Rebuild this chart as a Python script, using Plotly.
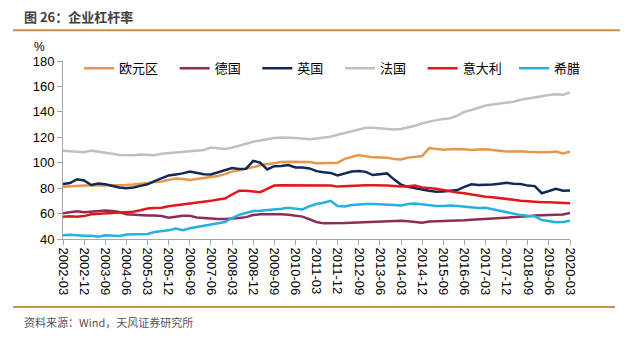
import plotly.graph_objects as go

dates = []
for y in range(2002, 2021):
    for m in ("03", "06", "09", "12"):
        dates.append(f"{y}-{m}")
dates = dates[:73]  # 2002-03 .. 2020-03

euro = [81, 81.5, 81.8, 82, 82, 82, 82, 82, 82.2, 82.4, 82.8, 83.2, 84, 84.8, 85.2, 86.5, 87.5, 87.2, 86.5, 87.2,
        88, 89, 89.5, 91, 93, 94, 95, 96.5, 98, 99, 100, 100.5, 100.8, 100.6, 100.2, 100.5, 99.5, 99.8, 99.6, 100,
        103, 104.5, 106, 105, 104.2, 104.1, 104, 103, 102.5, 104, 104.5, 105.2, 111.5, 110.8, 110.2, 110.5, 110.8, 110.5, 110, 110.3,
        110.6, 110, 109.3, 108.8, 108.8, 109, 108.6, 108.3, 108.2, 108.3, 108.8, 107.3, 108.6]
germany = [60.2, 61, 61.8, 61, 61.5, 62.4, 62.4, 62, 61.2, 59.5, 59, 58.6, 58.4, 58.4, 58, 56.8, 57.5, 58.2, 58.2, 57,
           56.6, 56, 55.8, 55.8, 56, 56.5, 57.2, 58.8, 59.5, 59.6, 59.5, 59.4, 59, 58.5, 57.6, 55.5, 53.3, 52.3, 52.2, 52.3,
           52.5, 52.8, 53, 53.3, 53.6, 54, 54.3, 54.5, 54.3, 54, 53.5, 52.8, 53.8, 54, 54, 54, 54.3, 54.8, 55.2, 55.5,
           55.8, 56, 56.5, 56.8, 57, 57.4, 57.8, 58.4, 58.8, 59, 59.1, 59.3, 60.5]
uk = [83.2, 84, 87, 86, 82.5, 83.7, 83, 81.8, 80.5, 80, 80.5, 81.8, 83, 85.5, 88, 90, 90.8, 91.6, 93, 92,
      91, 90.8, 92.5, 94, 95.8, 95, 95.3, 101.5, 100, 94.7, 97.3, 97.5, 98.1, 96.3, 96.2, 95.5, 93.4, 92.5, 92, 90,
      91.5, 93, 93.4, 92.8, 90.3, 91, 91.6, 86.9, 82.8, 81, 80.2, 79, 78, 77.2, 77.3, 77.6, 78.5, 81, 83, 82.4,
      82.4, 82.8, 83.5, 84.2, 83.5, 83.2, 82, 81.6, 76, 77.5, 79.5, 78, 78.2]
france = [109.5, 109, 108.5, 108.2, 109.5, 108.8, 108.2, 107, 106, 105.6, 105.8, 106.5, 106.2, 105.8, 107, 107.5, 107.8, 108.2, 109, 109.4,
          110, 112, 111.5, 110.8, 111.8, 113.5, 115, 116.5, 117.4, 118.5, 119.5, 119.8, 119.8, 119.5, 119, 118.5, 119, 119.5, 120.5, 122,
          123.5, 125, 126.5, 127.5, 127.5, 127, 126.5, 126.2, 126.5, 127.5, 129, 131, 132.5, 133.5, 134.3, 135, 137, 140, 141.5, 143,
          145, 145.8, 146.5, 147, 148, 149.5, 150.5, 151.5, 152.5, 153.2, 153.8, 153.4, 155.3]
italy = [57.5, 57.8, 57.5, 58, 59.5, 59.8, 60, 60.4, 60.8, 61.2, 61.5, 62.6, 64, 64.3, 64.6, 65.8, 66.5, 67, 67.4, 68.5,
         69.2, 70, 71, 71.8, 75, 77.9, 77.9, 77.5, 76.8, 79.5, 82, 82.2, 82.2, 82.2, 82.2, 82.2, 82.2, 82.2, 82, 81.2,
         81.5, 82, 82.2, 82.2, 82.2, 82.2, 82, 81.6, 81.2, 81.5, 82, 80.6, 80.2, 79.5, 78.6, 77.5, 76.5, 76, 75, 73.6,
         73.2, 72.9, 72, 71.3, 70.8, 70, 69.5, 69.2, 69, 69, 68.6, 68.3, 68.2]
greece = [42.9, 43.4, 43, 42.5, 42.6, 41.8, 42.9, 42.8, 42.4, 43.5, 43.7, 43.7, 44, 45.5, 46.2, 46.8, 48.2, 47, 48.5, 49.5,
          50, 51, 52.2, 53.4, 56.5, 59, 60.5, 62, 62.3, 62.7, 63, 63.8, 64.5, 64, 63.2, 65.8, 67.5, 68.5, 70, 66,
          65.5, 66.7, 67.2, 67.6, 67.5, 67.4, 67.4, 66.8, 66.3, 67.5, 68, 67.5, 66.5, 65.9, 66, 66.4, 66, 65.3, 64.6, 64.4,
          64.6, 63.5, 62, 60.7, 59.8, 58.8, 58.2, 57.8, 55, 54.2, 53.2, 53.3, 54.3]

names = ["欧元区", "德国", "英国", "法国", "意大利", "希腊"]
series = [euro, germany, uk, france, italy, greece]
colors = ["#E8964A", "#8E2B57", "#0F2A55", "#C0C0C0", "#E3161C", "#25B0E0"]
legend_groups = ["legend", "legend", "legend", "legend", "legend", "legend2"]

tick_labels = dates[::3]
y_ticks = [40, 60, 80, 100, 120, 140, 160, 180]

PAD = "\u00a0" * 4  # spacing between legend entries

fig = go.Figure()
for n, s, c, lg in zip(names, series, colors, legend_groups):
    fig.add_trace(go.Scatter(x=dates, y=s, name=n + (PAD if lg == "legend" else ""), mode="lines",
                             line=dict(color=c, width=2.5), legend=lg))

# pixel helpers for paper coordinates
W, H = 635, 341
L, R, T, B = 63, 570, 60.7, 239
def px(xp):
    return (xp - L) / (R - L)
def py(yp):
    return (B - yp) / (B - T)

legend_style = dict(orientation="h", yanchor="middle", xanchor="left",
                    font=dict(family="Noto Sans CJK SC", size=13, color="#000000"),
                    bgcolor="rgba(0,0,0,0)", itemwidth=30, tracegroupgap=0)

fig.update_layout(
    width=W, height=H,
    margin=dict(l=L, r=W - R, t=T, b=H - B),
    paper_bgcolor="white", plot_bgcolor="white",
    font=dict(family="Liberation Sans, Arial, sans-serif", size=13, color="#000000"),
    showlegend=True,
    legend=dict(x=px(79), y=py(68), **legend_style),
    legend2=dict(x=px(514), y=py(68), **legend_style),
    xaxis=dict(type="category", range=[0, 72], tickmode="array", tickvals=tick_labels,
               ticktext=tick_labels, tickangle=90, ticks="outside", ticklen=5,
               tickcolor="#A6A6A6", showline=True, linecolor="#A6A6A6", linewidth=1,
               showgrid=False, zeroline=False,
               tickfont=dict(family="Liberation Sans, Arial", size=13, color="#000000")),
    yaxis=dict(range=[40, 180], tickvals=y_ticks, ticks="outside", ticklen=5,
               tickcolor="#A6A6A6", showline=True, linecolor="#A6A6A6", linewidth=1,
               showgrid=False, zeroline=False,
               tickfont=dict(family="Liberation Sans, Arial", size=13, color="#000000")),
    annotations=[
        dict(text="<b>图 26：企业杠杆率</b>", xref="paper", yref="paper", x=px(22), y=py(16),
             xanchor="left", yanchor="middle", showarrow=False,
             font=dict(family="Noto Sans CJK SC", size=13, color="#404040")),
        dict(text="资料来源：Wind，天风证券研究所", xref="paper", yref="paper", x=px(22), y=py(322),
             xanchor="left", yanchor="middle", showarrow=False,
             font=dict(family="Noto Sans CJK SC", size=11, color="#555555")),
        dict(text="%", xref="paper", yref="paper", x=px(39), y=py(47),
             xanchor="center", yanchor="middle", showarrow=False,
             font=dict(family="Liberation Sans, Arial", size=12, color="#000000")),
    ],
    shapes=[
        dict(type="line", xref="paper", yref="paper", x0=px(13), x1=px(620), y0=py(30), y1=py(30),
             line=dict(color="#C9914A", width=2)),
        dict(type="line", xref="paper", yref="paper", x0=px(13), x1=px(615), y0=py(307), y1=py(307),
             line=dict(color="#C9914A", width=2)),
    ],
)

fig.write_html("out.html")
